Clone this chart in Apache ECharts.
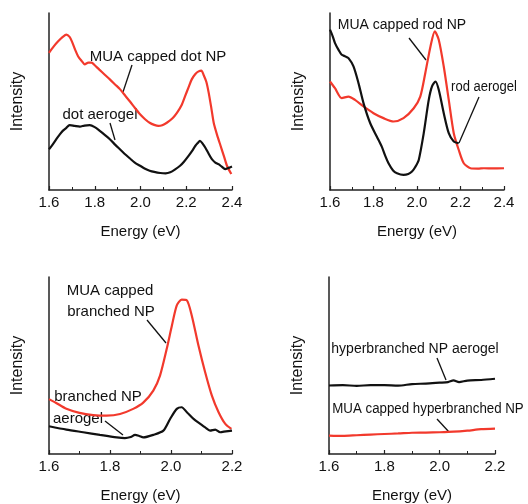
<!DOCTYPE html>
<html>
<head>
<meta charset="utf-8">
<script src="https://cdn.jsdelivr.net/npm/echarts@6/dist/echarts.min.js"></script>
<style>
  html, body { margin: 0; padding: 0; background: #fff; }
  #main { width: 528px; height: 504px; }
</style>
</head>
<body>
<div id="main"></div>
<script>
// panel a: dot
const dotNpE = [1.600, 1.620, 1.640, 1.660, 1.676, 1.690, 1.700, 1.715, 1.727, 1.742, 1.756, 1.772, 1.786, 1.800, 1.820, 1.845, 1.866, 1.890, 1.910, 1.935, 1.954, 1.975, 1.998, 2.020, 2.040, 2.060, 2.078, 2.095, 2.115, 2.140, 2.160, 2.180, 2.195, 2.210, 2.224, 2.240, 2.254, 2.266, 2.276, 2.288, 2.298, 2.310, 2.320, 2.335, 2.350, 2.365, 2.378, 2.397]
const dotNpI = [77.5, 81, 84, 86.5, 87.8, 86.5, 84, 79, 75.6, 73, 71, 72, 72, 70.5, 68, 65, 62.5, 59.5, 57, 53, 50, 46.5, 42.8, 40, 38, 36.8, 36.2, 36.6, 38, 40.5, 43.7, 48, 53, 58, 62.5, 65.5, 67, 67.5, 65, 61, 55, 46, 38, 31, 25, 19, 13.7, 9]
const dotGelE = [1.600, 1.615, 1.632, 1.645, 1.660, 1.675, 1.690, 1.712, 1.735, 1.755, 1.778, 1.800, 1.822, 1.845, 1.866, 1.890, 1.910, 1.930, 1.954, 1.975, 1.998, 2.020, 2.040, 2.060, 2.086, 2.110, 2.130, 2.150, 2.173, 2.190, 2.210, 2.225, 2.240, 2.250, 2.260, 2.270, 2.283, 2.298, 2.312, 2.327, 2.341, 2.355, 2.370, 2.385, 2.400]
const dotGelI = [23, 25.5, 28.7, 31, 33.4, 35, 36.6, 36.2, 35.8, 36.4, 36.6, 35.5, 33.4, 31, 28.7, 25.5, 23, 20.5, 17.8, 15.5, 13.7, 12, 10.9, 10.2, 9.6, 9.4, 10, 11.5, 13.7, 16, 19.3, 22, 25, 26.5, 27.8, 26.5, 24, 20.5, 17.4, 15.5, 14.6, 13.2, 11.8, 12.5, 13.3]
// panel b: rod
const rodNpE = [1.600, 1.623, 1.654, 1.685, 1.715, 1.754, 1.800, 1.846, 1.892, 1.938, 1.985, 2.015, 2.038, 2.062, 2.082, 2.100, 2.123, 2.146, 2.169, 2.192, 2.215, 2.246, 2.280, 2.308, 2.350, 2.400]
const rodNpI = [61.3, 57.5, 51.9, 52.8, 50.9, 47.2, 43.4, 40.6, 38.7, 40.6, 46.2, 52.8, 66, 81.1, 89.6, 84.9, 69.8, 50.9, 32.1, 22.6, 15.1, 12.3, 12.1, 12.3, 12.2, 12.3]
const rodGelE = [1.600, 1.612, 1.623, 1.640, 1.654, 1.670, 1.685, 1.708, 1.731, 1.754, 1.785, 1.815, 1.838, 1.855, 1.869, 1.890, 1.908, 1.938, 1.960, 1.977, 1.992, 2.008, 2.031, 2.054, 2.069, 2.085, 2.100, 2.123, 2.146, 2.169, 2.192]
const rodGelI = [90.6, 87, 83, 79, 76.4, 75.5, 74.5, 69.8, 60.4, 49.1, 37.7, 30.2, 24.5, 19, 15.1, 11, 9.4, 8.5, 9, 10.4, 13, 17, 32.1, 50.9, 58.5, 61.3, 56.6, 43.4, 32.1, 27.4, 26.4]
// panel c: branched
const brNpE = [1.600, 1.622, 1.657, 1.700, 1.745, 1.789, 1.833, 1.876, 1.909, 1.942, 1.964, 1.986, 2.003, 2.019, 2.035, 2.052, 2.068, 2.090, 2.112, 2.134, 2.156, 2.178, 2.198]
const brNpI = [31, 29, 25.5, 23.2, 22, 21.7, 22.6, 25.5, 29, 35.8, 44.3, 59.4, 72.6, 84, 87.2, 86.8, 78.3, 61.3, 46.2, 33, 23.6, 17, 14.2]
const brGelE = [1.600, 1.657, 1.712, 1.767, 1.822, 1.849, 1.868, 1.882, 1.896, 1.909, 1.942, 1.975, 1.997, 2.019, 2.035, 2.052, 2.074, 2.096, 2.112, 2.128, 2.145, 2.161, 2.180, 2.200]
const brGelI = [15.7, 13.8, 12.3, 10.8, 9.4, 9, 9.6, 10.8, 10.2, 9.4, 10.8, 13.2, 19.8, 25.5, 26.4, 23.6, 19.8, 17, 15, 13.2, 13.8, 12.3, 12.8, 13.2]
// panel d: hyperbranched
const hypGelE = [1.600, 1.650, 1.700, 1.750, 1.800, 1.850, 1.900, 1.950, 2.000, 2.030, 2.050, 2.070, 2.100, 2.150, 2.200]
const hypGelI = [38.7, 38.9, 38.5, 38.9, 38.9, 38.6, 39.5, 39.8, 40.3, 40.6, 41.6, 40.6, 41.5, 41.8, 42.5]
const hypNpE = [1.600, 1.650, 1.700, 1.750, 1.800, 1.850, 1.900, 1.950, 2.000, 2.050, 2.100, 2.150, 2.200]
const hypNpI = [10.4, 10.2, 10.6, 11, 11.3, 11.6, 12, 12.1, 12.3, 12.6, 13.2, 14, 14.3]

// x ranges of each panel
const xRanges = [[1.6, 2.4], [1.6, 2.4], [1.6, 2.2], [1.6, 2.2]]

const RED = '#f2392c'
const BLACK = '#111111'
const FONT = '"Liberation Sans", Arial, sans-serif'

const zip = (xs, ys) => xs.map((x, i) => [x, ys[i]])

const grids = [
  { left: 49, top: 13, width: 183, height: 177 },
  { left: 330, top: 13, width: 174, height: 177 },
  { left: 49, top: 277, width: 183, height: 177 },
  { left: 329, top: 277, width: 166, height: 177 }
]

const xAxes = xRanges.map((r, i) => ({
  type: 'value',
  gridIndex: i,
  min: r[0],
  max: r[1],
  interval: 0.2,
  name: 'Energy (eV)',
  nameLocation: 'middle',
  nameGap: 34,
  nameTextStyle: { fontSize: 15, color: BLACK, fontFamily: FONT },
  axisLine: { show: true, lineStyle: { color: '#222', width: 1.5 } },
  axisTick: { show: true, inside: true, length: 4, lineStyle: { color: '#222', width: 1.2 } },
  minorTick: { show: true, splitNumber: 2, length: 3, lineStyle: { color: '#222', width: 1 } },
  axisLabel: { fontSize: 15, color: BLACK, fontFamily: FONT, margin: 5, formatter: v => v.toFixed(1) },
  splitLine: { show: false }
}))

const yAxes = grids.map((g, i) => ({
  type: 'value',
  gridIndex: i,
  min: 0,
  max: 100,
  name: 'Intensity',
  nameLocation: 'middle',
  nameGap: 23,
  nameTextStyle: { fontSize: 16, color: BLACK, fontFamily: FONT },
  axisLine: { show: true, lineStyle: { color: '#222', width: 1.5 } },
  axisTick: { show: false },
  axisLabel: { show: false },
  splitLine: { show: false }
}))

function curve(data, idx, color) {
  return {
    type: 'line',
    xAxisIndex: idx,
    yAxisIndex: idx,
    data: data,
    showSymbol: false,
    smooth: 0.25,
    lineStyle: { color: color, width: 2.2 },
    itemStyle: { color: color },
    animation: false
  }
}

function label(text, x, y, size, opts) {
  return Object.assign({
    type: 'text',
    x: x,
    y: y,
    style: { text: text, fill: BLACK, font: size + 'px ' + FONT, align: 'center', verticalAlign: 'middle' }
  }, opts || {})
}

function pointer(x1, y1, x2, y2) {
  return { type: 'line', shape: { x1, y1, x2, y2 }, style: { stroke: BLACK, lineWidth: 1.3 } }
}

const chart = echarts.init(document.getElementById('main'))
chart.setOption({
  backgroundColor: '#fff',
  animation: false,
  grid: grids,
  xAxis: xAxes,
  yAxis: yAxes,
  series: [
    curve(zip(dotNpE, dotNpI), 0, RED),
    curve(zip(dotGelE, dotGelI), 0, BLACK),
    curve(zip(rodNpE, rodNpI), 1, RED),
    curve(zip(rodGelE, rodGelI), 1, BLACK),
    curve(zip(brNpE, brNpI), 2, RED),
    curve(zip(brGelE, brGelI), 2, BLACK),
    curve(zip(hypGelE, hypGelI), 3, BLACK),
    curve(zip(hypNpE, hypNpI), 3, RED)
  ],
  graphic: [
    label('MUA capped dot NP', 158, 57, 15),
    pointer(132, 65, 123, 92),
    label('dot aerogel', 100, 115, 15),
    pointer(110, 123, 115, 140),

    label('MUA capped rod NP', 402, 25, 14),
    pointer(409, 38, 426, 60),
    label('rod aerogel', 484, 87, 14, { scaleX: 0.93 }),
    pointer(479, 97, 459, 143),

    label('MUA capped', 110, 291, 15),
    label('branched NP', 111, 312, 15),
    pointer(147, 320, 166, 343),
    label('branched NP', 98, 397, 15),
    label('aerogel', 78, 419, 15),
    pointer(105, 421, 123, 435),

    label('hyperbranched NP aerogel', 415, 349, 14),
    pointer(437, 358, 446, 380),
    label('MUA capped hyperbranched NP', 428, 409, 14, { scaleX: 0.95 }),
    pointer(437, 419, 449, 432)
  ]
})
</script>
</body>
</html>
